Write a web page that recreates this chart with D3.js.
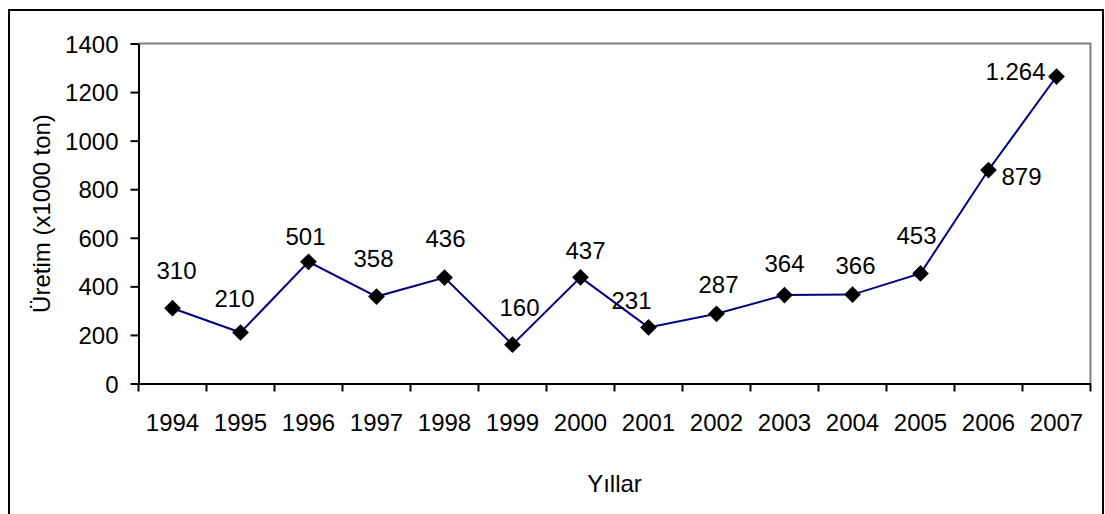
<!DOCTYPE html>
<html>
<head>
<meta charset="utf-8">
<script src="https://cdn.jsdelivr.net/npm/d3@7"></script>
<style>
  body { margin: 0; background: #fff; }
  text { font-family: "Liberation Sans", Arial, sans-serif; fill: #000; }
</style>
</head>
<body>
<div id="viz"></div>
<script>
// data
var years = ["1994","1995","1996","1997","1998","1999","2000","2001","2002","2003","2004","2005","2006","2007"];
var production = [310, 210, 501, 358, 436, 160, 437, 231, 287, 364, 366, 453, 879, 1264];
var labels = ["310","210","501","358","436","160","437","231","287","364","366","453","879","1.264"];
var yTicks = [0, 200, 400, 600, 800, 1000, 1200, 1400];

// where a label sits relative to its marker (default: above)
var nudge = {
  "1994": [4, -29], "1995": [-6, -26], "1996": [-3, -17], "1997": [-3, -30],
  "1998": [1, -31], "1999": [7, -29], "2000": [5, -18], "2001": [-17, -18],
  "2002": [2, -21], "2003": [0, -23], "2004": [3, -21], "2005": [-4, -29],
  "2006": [33, 15], "2007": [-41, 3]
};

var W = 1105, H = 514;
var plot = {left: 138.5, right: 1090.5, top: 43.5, bottom: 383.5};

var data = years.map(function(y, i){
  return {year: y, value: production[i], label: labels[i]};
});

var svg = d3.select("#viz").append("svg")
  .attr("width", W)
  .attr("height", H);

// outer frame (bottom runs off the picture)
svg.append("rect")
  .attr("x", 9).attr("y", 10)
  .attr("width", 1094).attr("height", 530)
  .attr("fill", "none")
  .attr("stroke", "#000")
  .attr("stroke-width", 2);

var x = d3.scaleBand()
  .domain(years)
  .range([plot.left, plot.right])
  .padding(0);

var y = d3.scaleLinear()
  .domain([0, 1400])
  .range([plot.bottom, plot.top]);

// grey top/right edge of plot area
svg.append("path")
  .attr("d", "M" + plot.left + "," + plot.top + "H" + plot.right + "V" + plot.bottom)
  .attr("fill", "none")
  .attr("stroke", "#7f7f7f")
  .attr("stroke-width", 2);

// y axis
var yAxis = svg.append("g")
  .attr("transform", "translate(" + plot.left + ",0)")
  .call(d3.axisLeft(y).tickValues(yTicks).tickFormat(d3.format("d"))
    .tickSize(8).tickSizeOuter(0).tickPadding(12));
yAxis.select(".domain").attr("stroke-width", 2);
yAxis.selectAll(".tick line").attr("stroke-width", 2);
yAxis.selectAll("text")
  .style("font-size", "24px")
  .attr("dy", "0.36em");

// x axis: labels centred in bands, tick marks on band edges
var xAxis = svg.append("g")
  .attr("transform", "translate(0," + plot.bottom + ")")
  .call(d3.axisBottom(x).tickSize(0).tickSizeOuter(0).tickPadding(47));
xAxis.select(".domain").attr("stroke-width", 2);
xAxis.selectAll("text")
  .style("font-size", "24px")
  .attr("dy", "0");

var edges = years.map(function(d){ return x(d) }).concat([plot.right]);
xAxis.selectAll("line.edge")
  .data(edges)
  .enter()
.append("line")
  .attr("class", "edge")
  .attr("x1", function(d){ return d }).attr("x2", function(d){ return d })
  .attr("y1", 0).attr("y2", 8)
  .attr("stroke", "#000")
  .attr("stroke-width", 2);

// axis titles
svg.append("text")
  .attr("x", (plot.left + plot.right) / 2)
  .attr("y", 492)
  .attr("text-anchor", "middle")
  .style("font-size", "24px")
  .text("Yıllar");

svg.append("text")
  .attr("transform", "translate(50," + ((plot.top + plot.bottom) / 2) + ") rotate(-90)")
  .attr("text-anchor", "middle")
  .style("font-size", "24px")
  .text("Üretim (x1000 ton)");

// series
var cx = function(d){ return x(d.year) + x.bandwidth() / 2 };

var line = d3.line()
  .x(cx)
  .y(function(d){ return y(d.value) });

svg.append("path")
  .datum(data)
  .attr("d", line)
  .attr("fill", "none")
  .attr("stroke", "#000080")
  .attr("stroke-width", 2);

var diamond = d3.symbol().type(d3.symbolSquare).size(140);

svg.selectAll("path.marker")
  .data(data)
  .enter()
.append("path")
  .attr("class", "marker")
  .attr("d", diamond)
  .attr("transform", function(d){
    return "translate(" + cx(d) + "," + y(d.value) + ") rotate(45)";
  })
  .attr("fill", "#000");

svg.selectAll("text.value")
  .data(data)
  .enter()
.append("text")
  .attr("class", "value")
  .attr("x", function(d){ return cx(d) + nudge[d.year][0] })
  .attr("y", function(d){ return y(d.value) + nudge[d.year][1] })
  .attr("text-anchor", "middle")
  .style("font-size", "24px")
  .text(function(d){ return d.label });
</script>
</body>
</html>
